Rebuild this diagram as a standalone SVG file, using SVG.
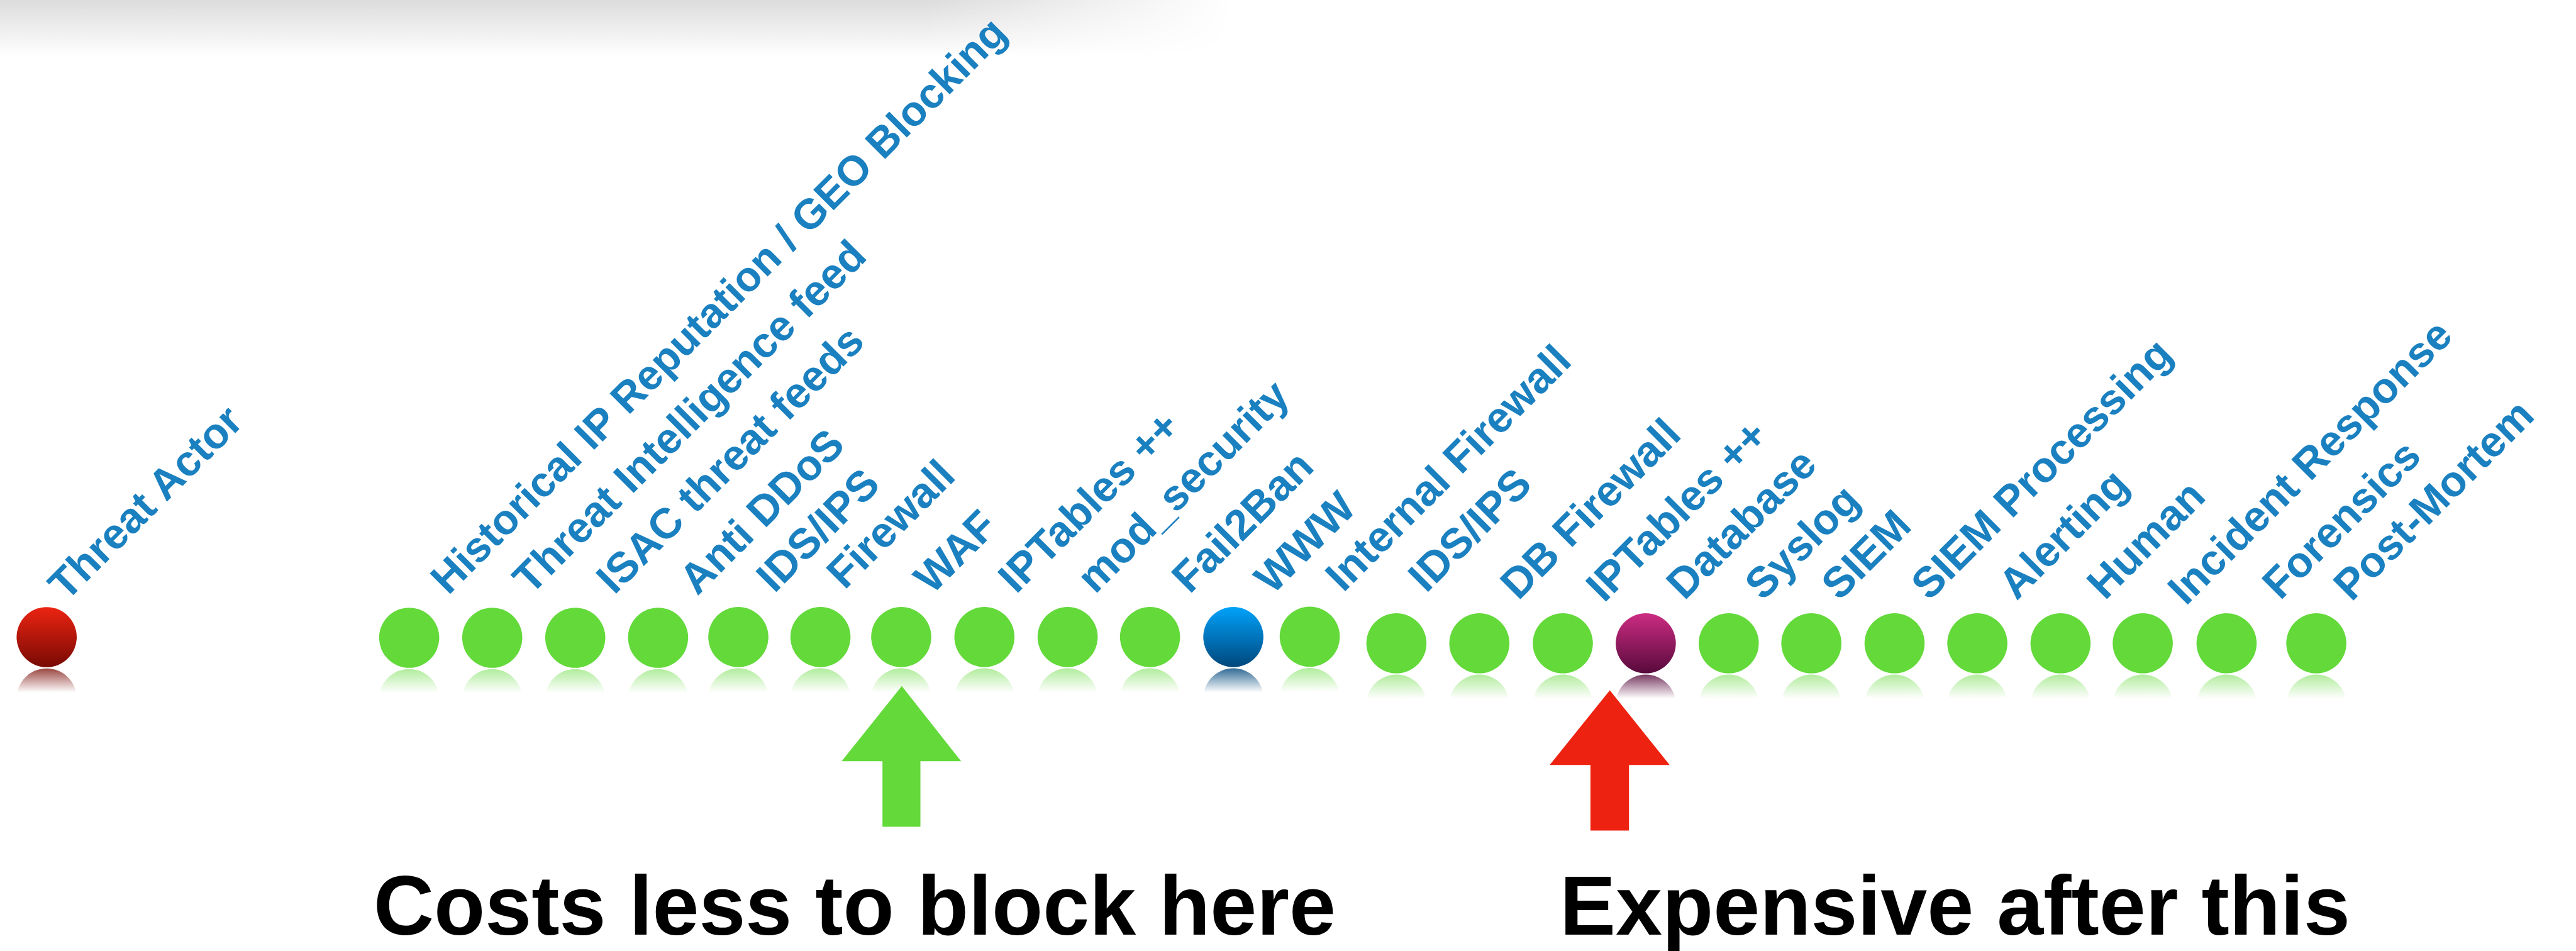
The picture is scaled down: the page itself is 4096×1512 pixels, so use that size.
<svg xmlns="http://www.w3.org/2000/svg" width="4096" height="1512" viewBox="0 0 4096 1512">
<style>
.lbl{font-family:"Liberation Sans",Arial,Helvetica,sans-serif;font-weight:bold;font-size:68px;fill:#1a80c0}
.big{font-family:"Liberation Sans",Arial,Helvetica,sans-serif;font-weight:bold;font-size:133px;fill:#000}
.g{fill:#63d93a}
.rg{fill:url(#reflGreen)}
</style>
<defs>
<linearGradient id="shadowV" x1="0" y1="0" x2="0" y2="1">
<stop offset="0" stop-color="#dcdcdc"/>
<stop offset="1" stop-color="#ffffff"/>
</linearGradient>
<linearGradient id="shadowH" x1="0" y1="0" x2="1" y2="0">
<stop offset="0" stop-color="#fff"/>
<stop offset="0.75" stop-color="#fff"/>
<stop offset="1" stop-color="#000"/>
</linearGradient>
<mask id="shadowMask" maskUnits="userSpaceOnUse" x="0" y="0" width="1960" height="90">
<rect x="0" y="0" width="1960" height="90" fill="url(#shadowH)"/>
</mask>
<linearGradient id="redBall" x1="0" y1="0" x2="0" y2="1">
<stop offset="0" stop-color="#ec2412"/>
<stop offset="1" stop-color="#780a04"/>
</linearGradient>
<linearGradient id="blueBall" x1="0" y1="0" x2="0" y2="1">
<stop offset="0" stop-color="#00a2fa"/>
<stop offset="1" stop-color="#00477c"/>
</linearGradient>
<linearGradient id="purpleBall" x1="0" y1="0" x2="0" y2="1">
<stop offset="0" stop-color="#cc2c82"/>
<stop offset="1" stop-color="#580a3c"/>
</linearGradient>
<linearGradient id="reflGreen" x1="0" y1="0" x2="0" y2="1">
<stop offset="0" stop-color="#63d93a" stop-opacity="0.5"/>
<stop offset="0.4" stop-color="#63d93a" stop-opacity="0"/>
</linearGradient>
<linearGradient id="reflRed" x1="0" y1="0" x2="0" y2="1">
<stop offset="0" stop-color="#780a04" stop-opacity="0.75"/>
<stop offset="0.4" stop-color="#780a04" stop-opacity="0"/>
</linearGradient>
<linearGradient id="reflBlue" x1="0" y1="0" x2="0" y2="1">
<stop offset="0" stop-color="#00477c" stop-opacity="0.8"/>
<stop offset="0.4" stop-color="#00477c" stop-opacity="0"/>
</linearGradient>
<linearGradient id="reflPurple" x1="0" y1="0" x2="0" y2="1">
<stop offset="0" stop-color="#580a3c" stop-opacity="0.8"/>
<stop offset="0.4" stop-color="#580a3c" stop-opacity="0"/>
</linearGradient>
</defs>
<rect width="4096" height="1512" fill="#fff"/>
<rect x="0" y="0" width="1960" height="90" fill="url(#shadowV)" mask="url(#shadowMask)"/>

<g id="node-threat-actor"><circle cx="74.2" cy="1013" r="47.8" fill="url(#redBall)"/><circle cx="74.2" cy="1110.5" r="47.8" fill="url(#reflRed)"/><text class="lbl" transform="translate(105.5,957.4) rotate(-45)">Threat Actor</text></g>
<g id="node-historical-ip"><circle class="g" cx="650.6" cy="1014" r="47.8"/><circle class="rg" cx="650.6" cy="1111.5" r="47.8"/><text class="lbl" style="font-size:67px" transform="translate(712.7,947.4) rotate(-45)">Historical IP Reputation / GEO Blocking</text></g>
<g id="node-threat-intel"><circle class="g" cx="782.7" cy="1014" r="47.8"/><circle class="rg" cx="782.7" cy="1111.5" r="47.8"/><text class="lbl" transform="translate(844.1,947.4) rotate(-45)">Threat Intelligence feed</text></g>
<g id="node-isac"><circle class="g" cx="914.7" cy="1014" r="47.8"/><circle class="rg" cx="914.7" cy="1111.5" r="47.8"/><text class="lbl" transform="translate(976.8,947) rotate(-45)">ISAC threat feeds</text></g>
<g id="node-anti-ddos"><circle class="g" cx="1046.4" cy="1014" r="47.8"/><circle class="rg" cx="1046.4" cy="1111.5" r="47.8"/><text class="lbl" transform="translate(1108.7,948.3) rotate(-45)">Anti DDoS</text></g>
<g id="node-ids-ips-1"><circle class="g" cx="1174" cy="1012.9" r="47.8"/><circle class="rg" cx="1174" cy="1110.4" r="47.8"/><text class="lbl" transform="translate(1231.2,944.4) rotate(-45)">IDS/IPS</text></g>
<g id="node-firewall"><circle class="g" cx="1304.6" cy="1012.9" r="47.8"/><circle class="rg" cx="1304.6" cy="1110.4" r="47.8"/><text class="lbl" transform="translate(1343,938.9) rotate(-45)">Firewall</text></g>
<g id="node-waf"><circle class="g" cx="1433" cy="1012.9" r="47.8"/><circle class="rg" cx="1433" cy="1110.4" r="47.8"/><text class="lbl" transform="translate(1482.1,946.6) rotate(-45)">WAF</text></g>
<g id="node-iptables-1"><circle class="g" cx="1565.3" cy="1012.9" r="47.8"/><circle class="rg" cx="1565.3" cy="1110.4" r="47.8"/><text class="lbl" transform="translate(1615.7,945.7) rotate(-45)">IPTables ++</text></g>
<g id="node-mod-security"><circle class="g" cx="1697.6" cy="1012.9" r="47.8"/><circle class="rg" cx="1697.6" cy="1110.4" r="47.8"/><text class="lbl" transform="translate(1741.2,945.7) rotate(-45)">mod_security</text></g>
<g id="node-fail2ban"><circle class="g" cx="1828.6" cy="1012.9" r="47.8"/><circle class="rg" cx="1828.6" cy="1110.4" r="47.8"/><text class="lbl" transform="translate(1891.7,945.7) rotate(-45)">Fail2Ban</text></g>
<g id="node-www"><circle cx="1961.1" cy="1012.9" r="47.8" fill="url(#blueBall)"/><circle cx="1961.1" cy="1110.4" r="47.8" fill="url(#reflBlue)"/><text class="lbl" transform="translate(2023.2,946.8) rotate(-45)">WWW</text></g>
<g id="node-internal-firewall"><circle class="g" cx="2082.6" cy="1012.3" r="47.8"/><circle class="rg" cx="2082.6" cy="1109.8" r="47.8"/><text class="lbl" transform="translate(2135.9,943.3) rotate(-45)">Internal Firewall</text></g>
<g id="node-ids-ips-2"><circle class="g" cx="2220.4" cy="1022.8" r="47.8"/><circle class="rg" cx="2220.4" cy="1120.3" r="47.8"/><text class="lbl" transform="translate(2267.8,944.2) rotate(-45)">IDS/IPS</text></g>
<g id="node-db-firewall"><circle class="g" cx="2352.3" cy="1022.8" r="47.8"/><circle class="rg" cx="2352.3" cy="1120.3" r="47.8"/><text class="lbl" transform="translate(2414.2,955.9) rotate(-45)">DB Firewall</text></g>
<g id="node-iptables-2"><circle class="g" cx="2485" cy="1022.8" r="47.8"/><circle class="rg" cx="2485" cy="1120.3" r="47.8"/><text class="lbl" transform="translate(2550.5,959.8) rotate(-45)">IPTables ++</text></g>
<g id="node-database"><circle cx="2616.9" cy="1022.8" r="47.8" fill="url(#purpleBall)"/><circle cx="2616.9" cy="1120.3" r="47.8" fill="url(#reflPurple)"/><text class="lbl" transform="translate(2678.3,955.9) rotate(-45)">Database</text></g>
<g id="node-syslog"><circle class="g" cx="2748.8" cy="1022.8" r="47.8"/><circle class="rg" cx="2748.8" cy="1120.3" r="47.8"/><text class="lbl" transform="translate(2802.9,956.8) rotate(-45)">Syslog</text></g>
<g id="node-siem"><circle class="g" cx="2880.2" cy="1022.8" r="47.8"/><circle class="rg" cx="2880.2" cy="1120.3" r="47.8"/><text class="lbl" transform="translate(2924.7,956.8) rotate(-45)">SIEM</text></g>
<g id="node-siem-processing"><circle class="g" cx="3012.5" cy="1022.8" r="47.8"/><circle class="rg" cx="3012.5" cy="1120.3" r="47.8"/><text class="lbl" transform="translate(3067.5,956.8) rotate(-45)">SIEM Processing</text></g>
<g id="node-alerting"><circle class="g" cx="3144.1" cy="1022.8" r="47.8"/><circle class="rg" cx="3144.1" cy="1120.3" r="47.8"/><text class="lbl" transform="translate(3206.6,955.9) rotate(-45)">Alerting</text></g>
<g id="node-human"><circle class="g" cx="3276.4" cy="1022.8" r="47.8"/><circle class="rg" cx="3276.4" cy="1120.3" r="47.8"/><text class="lbl" transform="translate(3347,955.7) rotate(-45)">Human</text></g>
<g id="node-incident-response"><circle class="g" cx="3407.1" cy="1022.8" r="47.8"/><circle class="rg" cx="3407.1" cy="1120.3" r="47.8"/><text class="lbl" transform="translate(3475.5,964.5) rotate(-45)">Incident Response</text></g>
<g id="node-forensics"><circle class="g" cx="3540.4" cy="1022.8" r="47.8"/><circle class="rg" cx="3540.4" cy="1120.3" r="47.8"/><text class="lbl" transform="translate(3625.7,955.7) rotate(-45)">Forensics</text></g>
<g id="node-post-mortem"><circle class="g" cx="3683.1" cy="1022.8" r="47.8"/><circle class="rg" cx="3683.1" cy="1120.3" r="47.8"/><text class="lbl" transform="translate(3739,957.9) rotate(-45)">Post-Mortem</text></g>

<g id="connectors">
<polygon fill="#63d93a" points="1433.9,1090.8 1528.3,1210.3 1463.5,1210.3 1463.5,1314.4 1403.2,1314.4 1403.2,1210.3 1338.3,1210.3"/>
<polygon fill="#ee2210" points="2559.7,1097.6 2654.9,1216.3 2590.2,1216.3 2590.2,1320.4 2528.9,1320.4 2528.9,1216.3 2464.1,1216.3"/>
</g>

<text class="big" x="594" y="1485.7">Costs less to block here</text>
<text class="big" x="2480.3" y="1485.7">Expensive after this</text>
</svg>
